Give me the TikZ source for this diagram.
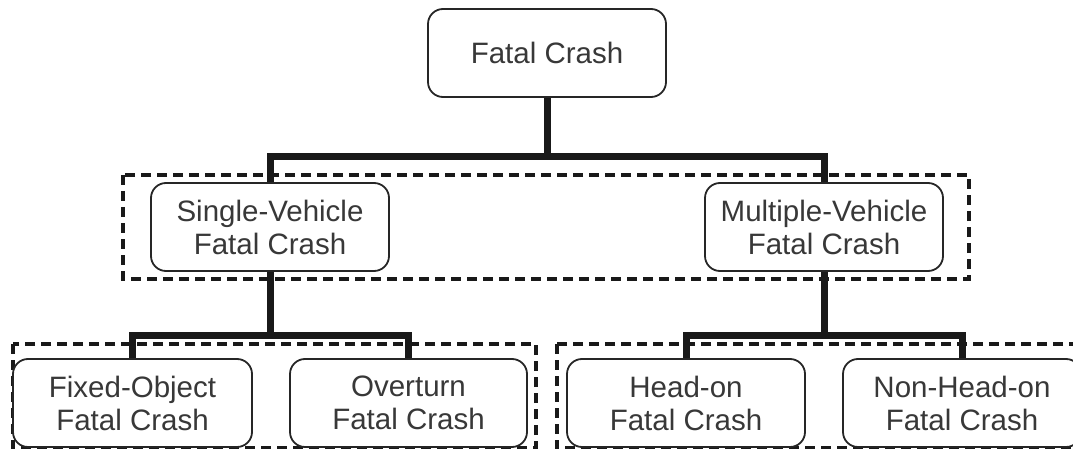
\documentclass[tikz,border=0pt]{standalone}
\usepackage{fontspec}
\setmainfont{Liberation Sans}
\pgfdeclarelayer{background}
\pgfsetlayers{background,main}
\begin{document}
\begin{tikzpicture}[x=1pt,y=-1pt,
  crashbox/.style={draw=black!85, line width=1.8pt, rounded corners=15pt, fill=white,
    minimum width=238pt, minimum height=88pt, inner sep=0pt, align=center,
    text=black!78, font=\fontsize{29.5}{33}\selectfont},
  groupbox/.style={draw=black!90, line width=3.2pt, dash pattern=on 10pt off 6pt},
  link/.style={draw=black!90, line width=7pt, line join=miter}]
\useasboundingbox (0,0) rectangle (1073,449);
\clip (0,0) rectangle (1073,449);
% nodes
\node[crashbox] (fc) at (547,53) {Fatal Crash};
\node[crashbox] (sv) at (270,227) {Single-Vehicle\\Fatal Crash};
\node[crashbox] (mv) at (824,227) {Multiple-Vehicle\\Fatal Crash};
\node[crashbox, minimum width=239pt] (fo) at (132.5,403) {Fixed-Object\\Fatal Crash};
\node[crashbox, minimum width=237pt] (ov) at (408.5,403) {Overturn\\Fatal Crash};
\node[crashbox] (ho) at (686,403) {Head-on\\Fatal Crash};
\node[crashbox] (nh) at (962,403) {Non-Head-on\\Fatal Crash};
% junctions
\coordinate (j1) at (547,157);
\coordinate (j2) at (270,335);
\coordinate (j3) at (824,335);
\begin{pgfonlayer}{background}
% group frames
\draw[groupbox] (123,175) rectangle (969,279);
\draw[groupbox] (13,344) rectangle (536,448);
\draw[groupbox] (557,344) rectangle (1090,448);
% connectors
\draw[link] (fc.center) -- (j1) -| (sv.center);
\draw[link] (j1) -| (mv.center);
\draw[link] (sv.center) -- (j2) -| (fo.center);
\draw[link] (j2) -| (ov.center);
\draw[link] (mv.center) -- (j3) -| (ho.center);
\draw[link] (j3) -| (nh.center);
\end{pgfonlayer}
\end{tikzpicture}
\end{document}
